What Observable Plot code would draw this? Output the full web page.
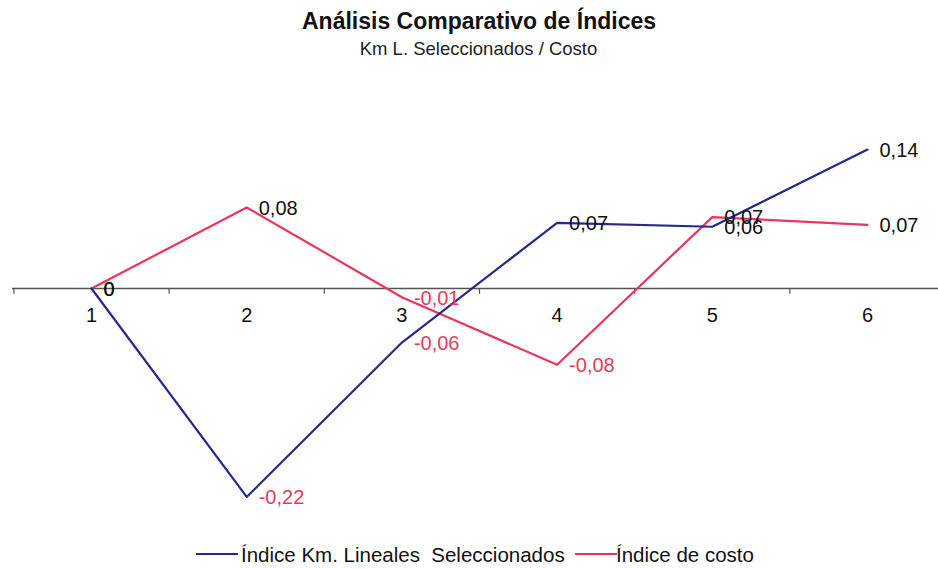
<!DOCTYPE html>
<html>
<head>
<meta charset="utf-8">
<script src="https://cdn.jsdelivr.net/npm/d3@7"></script>
<script src="https://cdn.jsdelivr.net/npm/@observablehq/plot@0.6"></script>
<style>
  body { margin: 0; background: #fff; font-family: "Liberation Sans", Arial, sans-serif; }
  .wrap { width: 938px; }
  .head, .legend { position: relative; width: 938px; }
  .head { height: 70px; }
  .legend { height: 39px; }
  .t { position: absolute; white-space: pre; line-height: 1; color: #111; }
  .sw { position: absolute; height: 2px; }
</style>
</head>
<body>
<div class="wrap">
  <div class="head">
    <div class="t" id="title" style="font-weight:bold;font-size:23px;top:10px;left:0;width:958px;text-align:center;"></div>
    <div class="t" id="subtitle" style="font-size:18.5px;top:40px;left:0;width:957px;text-align:center;color:#222;"></div>
  </div>
  <div id="chart"></div>
  <div class="legend" id="legend"></div>
</div>
<script>
const titleText = "Análisis Comparativo de Índices";
const subtitleText = "Km L. Seleccionados / Costo";
const categories = [1, 2, 3, 4, 5, 6];
const kmIndex = [0, -0.216, -0.056, 0.068, 0.064, 0.144];
const costIndex = [0, 0.084, -0.009, -0.079, 0.074, 0.066];
const seriesNames = ["Índice Km. Lineales  Seleccionados", "Índice de costo"];
const seriesColors = ["#27278c", "#e8365d"];
const negLabelColor = "#e83a5f";

document.getElementById("title").textContent = titleText;
document.getElementById("subtitle").textContent = subtitleText;

const kmData = categories.map((c, i) => ({cat: c, value: kmIndex[i]}));
const costData = categories.map((c, i) => ({cat: c, value: costIndex[i]}));
const fmt = v => v === 0 ? "0" : (Math.round(v * 100) / 100).toFixed(2).replace(".", ",");
const tickPos = [categories[0] - 0.5, ...categories.map(c => c + 0.5)];
const font = "'Liberation Sans', Arial, sans-serif";

function labels(data) {
  return [
    Plot.text(data.filter(d => d.value >= 0), {x: "cat", y: "value", text: d => fmt(d.value), dx: 12, dy: 1, textAnchor: "start", fill: "#111", fontSize: 20}),
    Plot.text(data.filter(d => d.value < 0), {x: "cat", y: "value", text: d => fmt(d.value), dx: 12, dy: 1, textAnchor: "start", fill: negLabelColor, fontSize: 20})
  ];
}

const chart = Plot.plot({
  width: 938,
  height: 460,
  marginLeft: 12,
  marginRight: 0,
  marginTop: 0,
  marginBottom: 0,
  style: {fontFamily: font, background: "#fff", overflow: "visible"},
  x: {type: "linear", domain: [1, 6], range: [91, 867], axis: null},
  y: {domain: [-0.24, 0.16], range: [449.6, 63.6], axis: null},
  marks: [
    Plot.ruleY([0], {stroke: "#555", strokeWidth: 1.5}),
    Plot.ruleX(tickPos, {x: d => d, y1: 0, y2: -0.006, stroke: "#555", strokeWidth: 1.2}),
    Plot.text(categories, {x: d => d, y: 0, dy: 27, text: d => String(d), fill: "#111", fontSize: 20}),
    Plot.line(costData, {x: "cat", y: "value", stroke: seriesColors[1], strokeWidth: 2.2}),
    Plot.line(kmData, {x: "cat", y: "value", stroke: seriesColors[0], strokeWidth: 2.2}),
    ...labels(costData),
    ...labels(kmData)
  ]
});
document.getElementById("chart").appendChild(chart);

// legend
const legend = document.getElementById("legend");
const items = [
  {name: seriesNames[0], color: seriesColors[0], sw: 196, tx: 241},
  {name: seriesNames[1], color: seriesColors[1], sw: 575, tx: 616}
];
items.forEach(it => {
  const s = document.createElement("div");
  s.className = "sw";
  s.style.left = it.sw + "px";
  s.style.width = "42px";
  s.style.top = "23px";
  s.style.background = it.color;
  legend.appendChild(s);
  const t = document.createElement("div");
  t.className = "t";
  t.style.left = it.tx + "px";
  t.style.top = "15px";
  t.style.fontSize = "20.5px";
  t.textContent = it.name;
  legend.appendChild(t);
});
</script>
</body>
</html>
